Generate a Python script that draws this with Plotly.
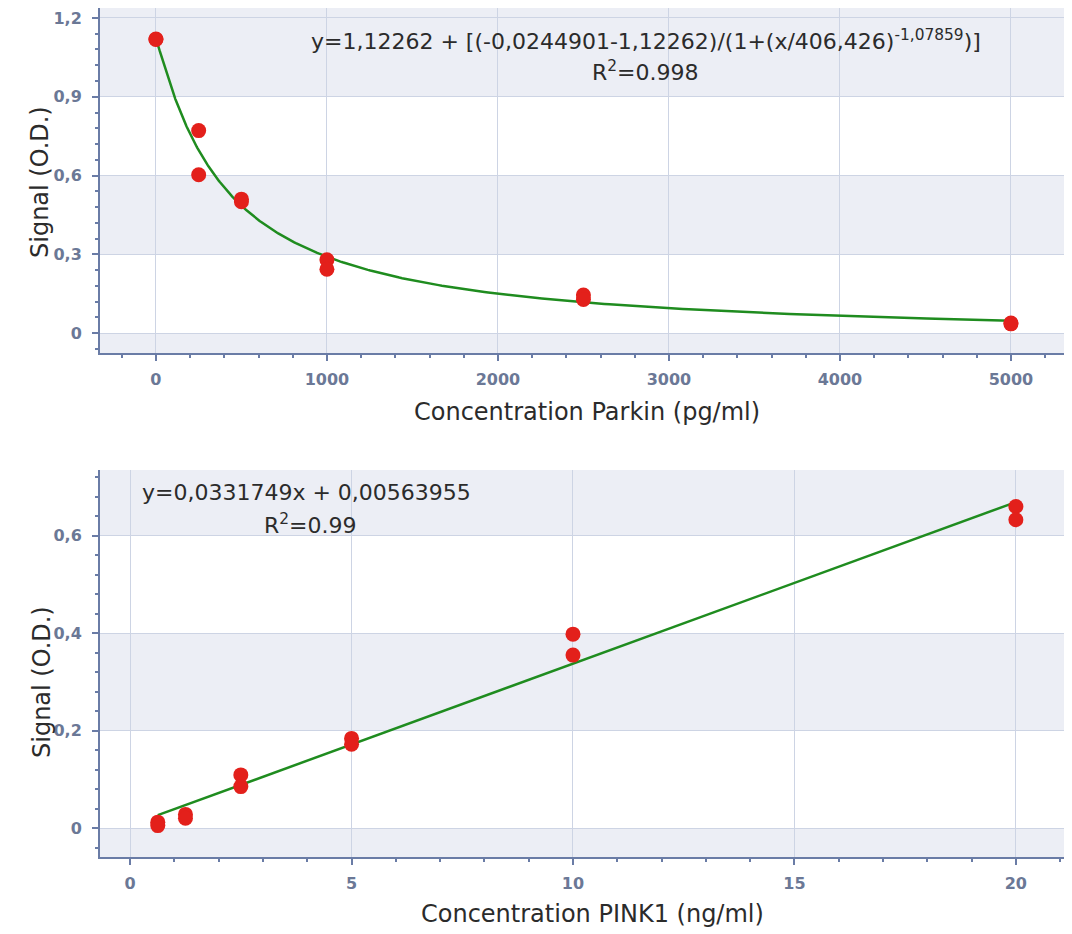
import numpy as np
import plotly.graph_objects as go

# ---- Data: Parkin (top) ----
parkin_conc = [0, 0, 250, 250, 500, 500, 1000, 1000, 2500, 2500, 5000, 5000]
parkin_signal = [1.12, 1.118, 0.771, 0.603, 0.51, 0.50, 0.279, 0.243, 0.145, 0.128, 0.038, 0.035]
# 4PL fit parameters (shown on chart)
fit_top = 1.12262
fit_bottom = -0.0244901
fit_c = 406.426
fit_b = -1.07859

# ---- Data: PINK1 (bottom) ----
pink_conc = [0.625, 0.625, 1.25, 1.25, 2.5, 2.5, 5, 5, 10, 10, 20, 20]
pink_signal = [0.012, 0.005, 0.028, 0.02, 0.109, 0.085, 0.184, 0.172, 0.398, 0.355, 0.66, 0.633]
lin_slope = 0.0331749
lin_icpt = 0.00563955

parkin_yticks = [0, 0.3, 0.6, 0.9, 1.2]
parkin_xticks = [0, 1000, 2000, 3000, 4000, 5000]
pink_yticks = [0, 0.2, 0.4, 0.6]
pink_xticks = [0, 5, 10, 15, 20]

OFF = 8  # default body margin of the html page
W, H = 1064, 924
def px_x(p): return (p - OFF) / W
def px_y(p): return 1 - (p - OFF) / H

AXC = "#6a7ca6"
GRID = "#cdd4e4"
BAND = "#eceef5"
RED = "#e3201b"
GREEN = "#1f8c1f"
TICKFONT = dict(family="DejaVu Sans", size=16, color="#6b7896", weight="bold")

fig = go.Figure()

# Parkin fitted curve (from the equation shown on the chart)
xc = np.concatenate([[0.0], np.geomspace(0.5, 5000, 800)])
with np.errstate(divide="ignore"):
    yc = np.where(xc > 0, fit_top + (fit_bottom - fit_top) / (1 + (np.maximum(xc, 1e-9) / fit_c) ** fit_b), fit_top)
fig.add_trace(go.Scatter(x=xc, y=yc, mode="lines", line=dict(color=GREEN, width=2.5),
                         xaxis="x", yaxis="y", showlegend=False, hoverinfo="skip"))
fig.add_trace(go.Scatter(x=parkin_conc, y=parkin_signal, mode="markers",
                         marker=dict(color=RED, size=15), xaxis="x", yaxis="y", showlegend=False))

# PINK1 linear fit
xl = np.array([min(pink_conc), max(pink_conc)])
yl = lin_slope * xl + lin_icpt
fig.add_trace(go.Scatter(x=xl, y=yl, mode="lines", line=dict(color=GREEN, width=2.5),
                         xaxis="x2", yaxis="y2", showlegend=False, hoverinfo="skip"))
fig.add_trace(go.Scatter(x=pink_conc, y=pink_signal, mode="markers",
                         marker=dict(color=RED, size=15), xaxis="x2", yaxis="y2", showlegend=False))

# shaded plot areas + white bands
shapes = [
    dict(type="rect", xref="x domain", yref="y domain", x0=0, x1=1, y0=0, y1=1,
         fillcolor=BAND, line=dict(width=0), layer="below"),
    dict(type="rect", xref="x2 domain", yref="y2 domain", x0=0, x1=1, y0=0, y1=1,
         fillcolor=BAND, line=dict(width=0), layer="below"),
]
for y0, y1 in [(0, 0.3), (0.6, 0.9)]:
    shapes.append(dict(type="rect", xref="x domain", yref="y", x0=0, x1=1, y0=y0, y1=y1,
                       fillcolor="white", line=dict(width=0), layer="below"))
for y0, y1 in [(0, 0.2), (0.4, 0.6)]:
    shapes.append(dict(type="rect", xref="x2 domain", yref="y2", x0=0, x1=1, y0=y0, y1=y1,
                       fillcolor="white", line=dict(width=0), layer="below"))

def xaxis_cfg(domain, rng, tickvals, dtick_minor, anchor):
    return dict(domain=domain, range=rng, tickvals=tickvals, ticks="outside", ticklen=6,
                tickwidth=1.5, tickcolor=AXC, showline=True, linecolor=AXC, linewidth=2,
                showgrid=True, gridcolor=GRID, gridwidth=1.3, zeroline=False,
                tickfont=TICKFONT, anchor=anchor, ticklabelstandoff=5,
                minor=dict(dtick=dtick_minor, ticks="outside", ticklen=3, tickcolor=AXC, showgrid=False))

def yaxis_cfg(domain, rng, tickvals, dtick_minor, anchor):
    return dict(domain=domain, range=rng, tickvals=tickvals, ticks="outside", ticklen=6,
                tickwidth=1.5, tickcolor=AXC, showline=True, linecolor=AXC, linewidth=2,
                showgrid=True, gridcolor=GRID, gridwidth=1.3, zeroline=False,
                tickfont=TICKFONT, anchor=anchor, ticklabelstandoff=7,
                minor=dict(dtick=dtick_minor, tick0=0, ticks="outside", ticklen=3, tickcolor=AXC, showgrid=False))

fig.update_layout(
    width=W, height=H, margin=dict(l=0, r=0, t=0, b=0),
    paper_bgcolor="white", plot_bgcolor="rgba(0,0,0,0)",
    separators=",.",
    xaxis=xaxis_cfg([px_x(100), px_x(1066)], [-327, 5322], parkin_xticks, 200, "y"),
    yaxis=yaxis_cfg([px_y(353), px_y(8)], [-0.076, 1.238], parkin_yticks, 0.06, "x"),
    xaxis2=xaxis_cfg([px_x(100), px_x(1069)], [-0.68, 21.2], pink_xticks, 1, "y2"),
    yaxis2=yaxis_cfg([px_y(857), px_y(470)], [-0.0595, 0.735], pink_yticks, 0.04, "x2"),
    shapes=shapes,
)

TF = dict(family="DejaVu Sans", size=24, color="#2b2b2b")
EF = dict(family="DejaVu Sans", size=22, color="#2b2b2b")
ann = [
    dict(text="Signal (O.D.)", x=px_x(40), y=px_y(182), textangle=-90, font=TF),
    dict(text="Concentration Parkin (pg/ml)", x=px_x(587), y=px_y(412), font=TF),
    dict(text="Signal (O.D.)", x=px_x(42), y=px_y(682), textangle=-90, font=TF),
    dict(text="Concentration PINK1 (ng/ml)", x=px_x(592), y=px_y(914), font=TF),
    dict(text="y=1,12262 + [(-0,0244901-1,12262)/(1+(x/406,426)<sup>-1,07859</sup>)]",
         x=px_x(646), y=px_y(40), font=EF),
    dict(text="R<sup>2</sup>=0.998", x=px_x(645), y=px_y(71), font=EF),
    dict(text="y=0,0331749x + 0,00563955", x=px_x(306), y=px_y(492), font=EF),
    dict(text="R<sup>2</sup>=0.99", x=px_x(310), y=px_y(524), font=EF),
]
for a in ann:
    a.update(xref="paper", yref="paper", showarrow=False, xanchor="center", yanchor="middle")
fig.update_layout(annotations=ann)

fig.write_html("out.html")
